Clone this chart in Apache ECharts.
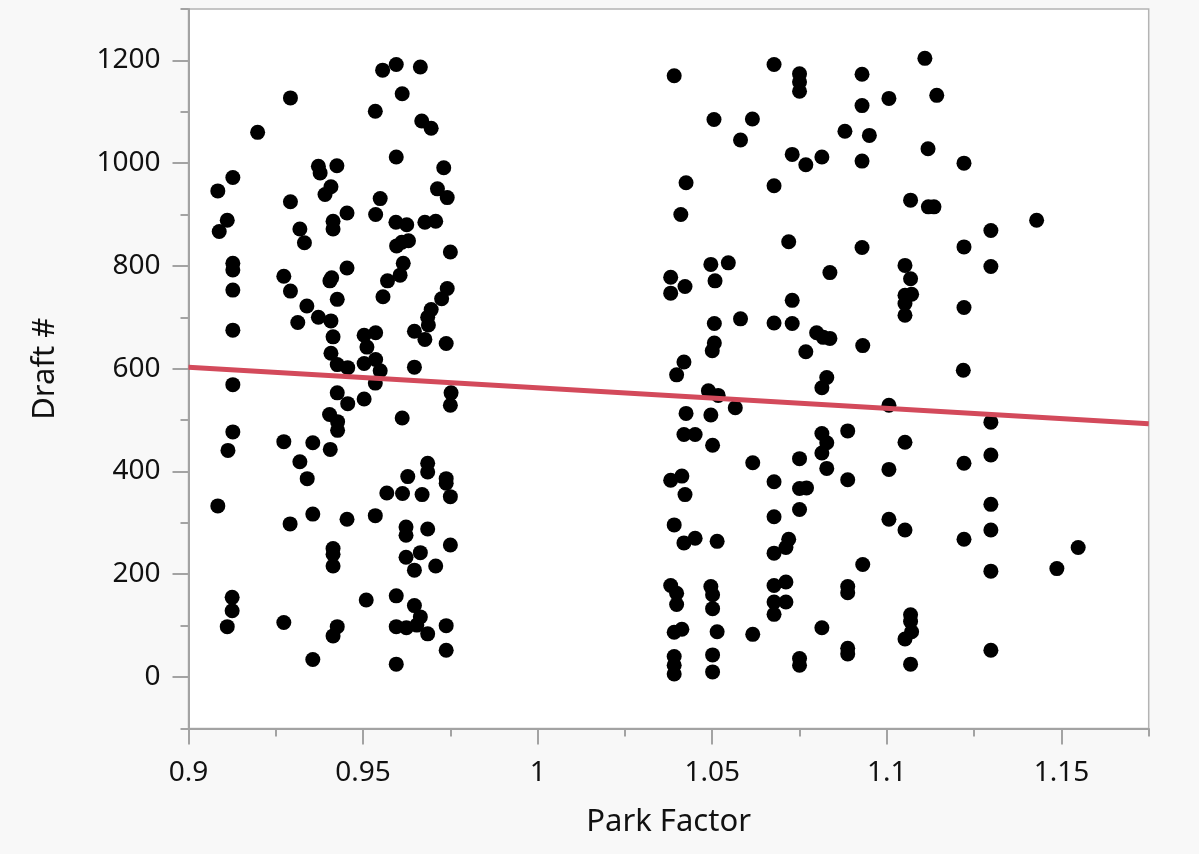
<!DOCTYPE html>
<html>
<head>
<meta charset="utf-8">
<script src="https://cdn.jsdelivr.net/npm/echarts@6/dist/echarts.min.js"></script>
<style>
html,body{margin:0;padding:0;background:#f8f8f8;}
#chart{width:1199px;height:854px;}
</style>
</head>
<body>
<div id="chart"></div>
<script>
// Park Factor (x) and Draft # (y) for each player
const parkFactor = [
0.9556,0.9595,0.9664,0.9292,0.9612,0.9535,0.9198,0.9668,0.9695,0.9595,
0.9372,0.9377,0.9425,0.9731,0.9127,0.9084,0.9408,0.9391,0.9713,0.9741,
0.9292,0.9549,0.9454,0.9536,0.9111,0.9088,0.9414,0.9414,0.9319,0.9332,
0.9594,0.9625,0.9677,0.9708,0.9596,0.9611,0.9630,0.9750,0.9127,0.9127,
0.9273,0.9454,0.9410,0.9405,0.9615,0.9606,0.9570,0.9127,0.9292,0.9426,
0.9557,0.9741,0.9725,0.9695,0.9685,0.9687,0.9339,0.9372,0.9313,0.9408,
0.9127,0.9414,0.9503,0.9536,0.9511,0.9647,0.9677,0.9738,0.9408,0.9426,
0.9456,0.9503,0.9536,0.9549,0.9535,0.9647,0.9127,0.9426,0.9456,0.9503,
0.9752,0.9750,0.9404,0.9427,0.9427,0.9612,0.9127,0.9113,0.9273,0.9356,
0.9406,0.9319,0.9685,0.9685,0.9340,0.9628,0.9738,0.9738,0.9750,0.9568,
0.9613,0.9669,0.9084,0.9291,0.9356,0.9454,0.9535,0.9623,0.9623,0.9685,
0.9414,0.9414,0.9414,0.9623,0.9664,0.9647,0.9708,0.9750,0.9125,0.9125,
0.9111,0.9273,0.9426,0.9414,0.9509,0.9595,0.9647,0.9664,0.9595,0.9624,
0.9654,0.9685,0.9738,0.9738,0.9356,0.9595,
1.0391,1.0677,1.0750,1.0750,1.0750,1.0929,1.0929,1.0505,1.0615,1.0581,
1.0880,1.0950,1.0729,1.0768,1.0814,1.0929,1.0425,1.0677,1.0410,1.0719,
1.0929,1.1109,1.1006,1.1143,1.1118,1.1221,1.1068,1.1119,1.1135,1.1429,
1.1298,1.1221,1.0496,1.0546,1.0381,1.0422,1.0381,1.0508,1.0837,1.0729,
1.0506,1.0581,1.0677,1.0729,1.0799,1.0818,1.0837,1.0506,1.0500,1.0768,
1.0931,1.0419,1.0398,1.0828,1.0814,1.0489,1.0517,1.0566,1.0425,1.0496,
1.0419,1.0451,1.0501,1.0814,1.0828,1.0814,1.0888,1.0616,1.0750,1.0828,
1.0888,1.0381,1.0413,1.0422,1.0677,1.0750,1.0770,1.0750,1.0677,1.0391,
1.0419,1.0451,1.0514,1.0719,1.0711,1.0677,1.0931,1.0381,1.0398,1.0398,
1.0496,1.0501,1.0501,1.0677,1.0711,1.0677,1.0711,1.0677,1.0888,1.0888,
1.0391,1.0413,1.0514,1.0616,1.0814,1.0888,1.0888,1.0391,1.0391,1.0391,
1.0501,1.0501,1.0750,1.0750,1.1052,1.1068,1.1298,1.1052,1.1071,1.1052,
1.1052,1.1221,1.1219,1.1006,1.1298,1.1052,1.1298,1.1221,1.1006,1.1298,
1.1006,1.1052,1.1221,1.1298,1.1298,1.1487,1.1548,1.1068,1.1068,1.1071,
1.1052,1.1068,1.1298
];
const draftNumber = [
1181,1192,1187,1127,1135,1101,1060,1082,1068,1012,
994,981,995,991,972,946,954,939,950,933,
925,931,903,900,889,867,887,872,872,845,
885,880,885,887,839,846,849,827,805,792,
780,796,777,771,805,782,771,753,751,735,
740,756,736,715,700,685,722,700,690,693,
675,662,665,670,642,673,657,649,630,608,
602,610,618,596,572,603,569,553,532,541,
553,529,511,497,480,504,477,441,458,456,
443,419,416,399,386,390,386,377,351,358,
357,355,333,298,317,307,314,292,276,288,
250,239,216,233,242,208,216,257,155,129,
98,106,98,80,150,158,139,117,98,96,
101,84,100,52,34,25,
1170,1192,1174,1158,1140,1173,1112,1085,1086,1045,
1062,1054,1017,997,1012,1004,962,956,900,847,
836,1204,1126,1132,1028,1000,928,915,915,889,
869,837,803,806,778,760,747,771,787,733,
688,697,689,688,670,661,659,650,635,633,
645,613,588,583,563,557,548,524,513,510,
472,472,451,474,456,436,479,417,425,406,
384,383,391,355,380,367,368,326,312,296,
261,270,264,268,252,241,219,178,163,141,
176,160,133,178,185,146,146,122,176,164,
87,93,88,83,96,56,45,40,23,6,
43,10,36,23,801,775,799,743,745,727,
704,719,597,529,496,457,432,416,404,336,
307,286,268,286,206,211,252,121,108,88,
74,25,52
];
// Fitted line (two end points)
const fitX = [0.9, 1.175];
const fitY = [603, 493];
// Tick labels
const yLabelValues = [0, 200, 400, 600, 800, 1000, 1200];

const points = parkFactor.map((x, i) => [x, draftNumber[i]]);
const fitLine = fitX.map((x, i) => [x, fitY[i]]);

const chart = echarts.init(document.getElementById('chart'), null, {renderer: 'canvas'});
const font = '"Noto Sans", "Open Sans", sans-serif';
const axisGray = '#a3a3a3';
chart.setOption({
  backgroundColor: '#f8f8f8',
  animation: false,
  grid: {
    left: 188.5, right: 50.3, top: 9, bottom: 125.6,
    show: true, backgroundColor: '#ffffff', borderColor: '#b4b4b4', borderWidth: 1.5
  },
  xAxis: [{
    type: 'value', min: 0.9, max: 1.175, interval: 0.05,
    name: 'Park Factor', nameLocation: 'middle', nameGap: 78,
    nameTextStyle: {fontFamily: font, fontSize: 31, color: '#111'},
    axisLine: {show: true, onZero: false, lineStyle: {color: axisGray, width: 2}},
    axisTick: {show: true, length: 16, lineStyle: {color: axisGray, width: 2}},
    axisLabel: {fontFamily: font, fontSize: 28, color: '#111', margin: 31,
      showMaxLabel: false,
      formatter: v => (v > 1.16 ? '' : String(+v.toFixed(3)))},
    splitLine: {show: false}
  }, {
    type: 'value', min: 0.9, max: 1.175, interval: 0.025, position: 'bottom',
    axisLine: {show: false, onZero: false},
    axisTick: {show: true, length: 8, lineStyle: {color: axisGray, width: 2}},
    axisLabel: {show: false}, splitLine: {show: false}
  }],
  yAxis: [{
    type: 'value', min: -100, max: 1300, interval: 100,
    name: 'Draft #', nameLocation: 'middle', nameGap: 128, nameRotate: 90,
    nameTextStyle: {fontFamily: font, fontSize: 31, color: '#111'},
    axisLine: {show: true, onZero: false, lineStyle: {color: axisGray, width: 2}},
    axisTick: {show: true, length: 16, customValues: yLabelValues, lineStyle: {color: axisGray, width: 2}},
    axisLabel: {fontFamily: font, fontSize: 28, color: '#111', margin: 28,
      customValues: yLabelValues,
      formatter: v => (v % 200 === 0 && v >= 0 && v <= 1200) ? String(v) : ''},
    splitLine: {show: false}
  }, {
    type: 'value', min: -100, max: 1300, interval: 100, position: 'left',
    axisLine: {show: false, onZero: false},
    axisTick: {show: true, length: 8, lineStyle: {color: axisGray, width: 2}},
    axisLabel: {show: false}, splitLine: {show: false}
  }],
  series: [{
    type: 'scatter', xAxisIndex: 0, yAxisIndex: 0,
    data: points, symbol: 'circle', symbolSize: 15,
    itemStyle: {color: '#000000', opacity: 1}, silent: true, z: 2
  }, {
    type: 'line', xAxisIndex: 0, yAxisIndex: 0,
    data: fitLine, showSymbol: false, symbol: 'none',
    lineStyle: {color: '#d34a5b', width: 5}, silent: true, z: 3
  }]
});
</script>
</body>
</html>
